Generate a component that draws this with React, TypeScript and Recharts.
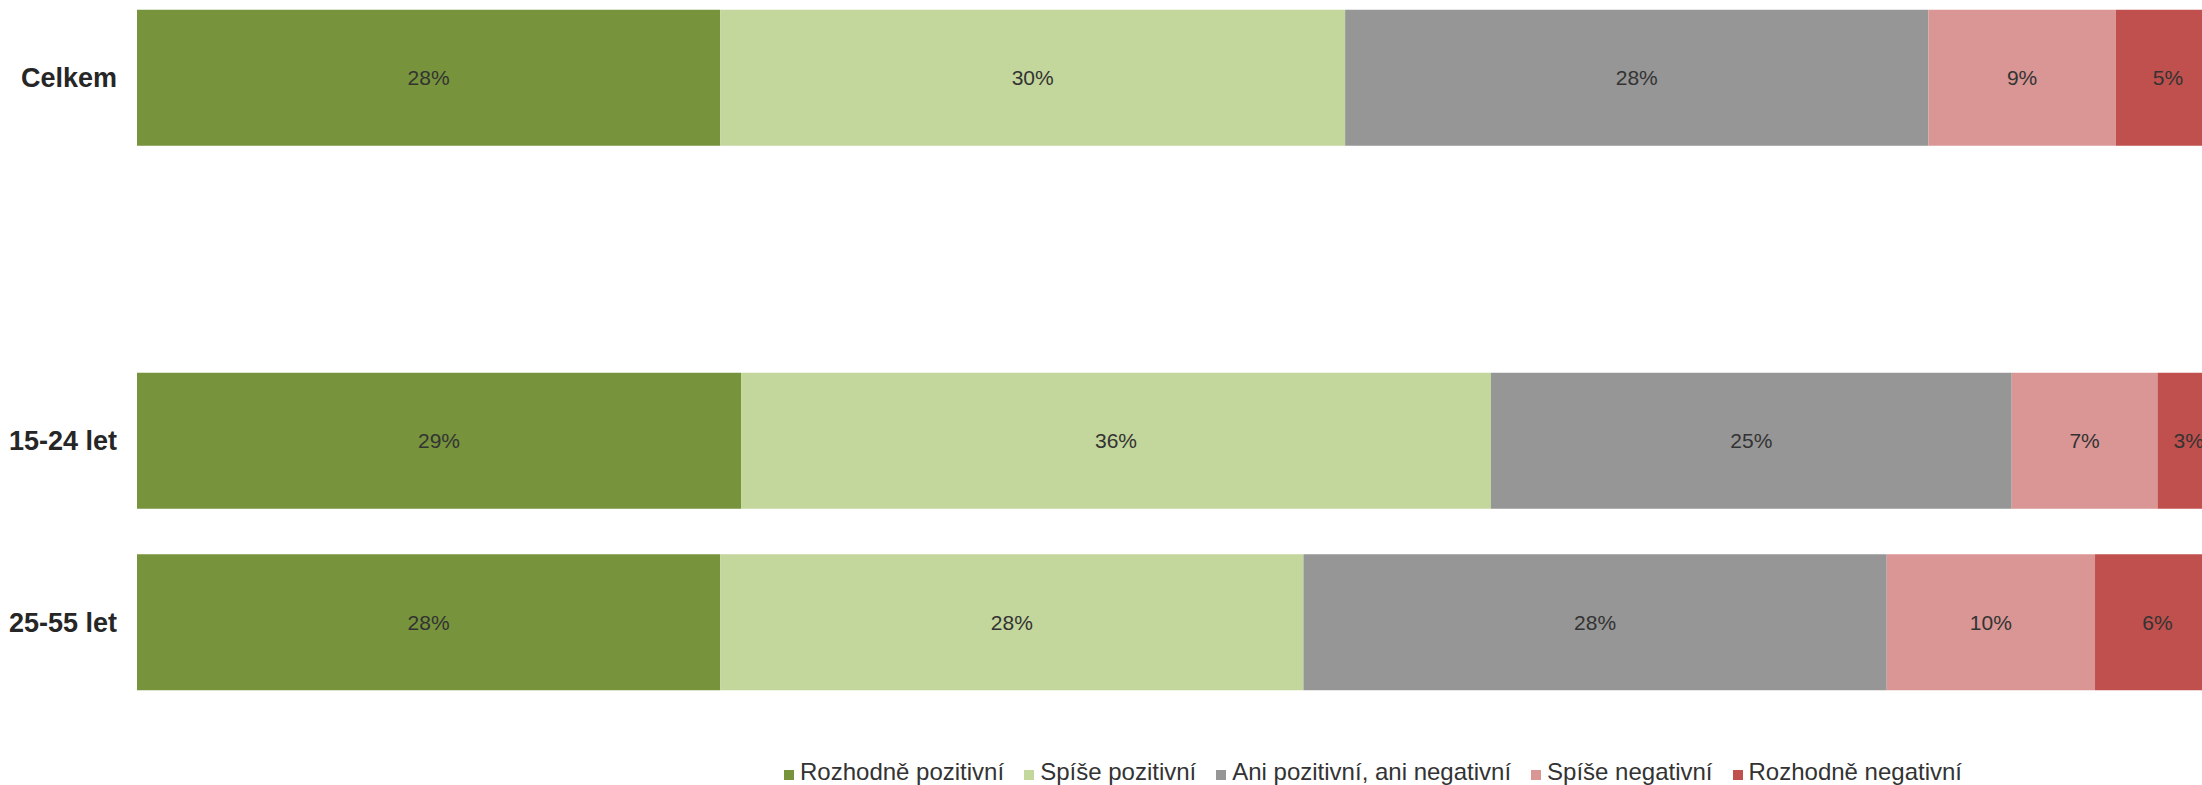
import { BarChart, Bar, XAxis, YAxis, Legend, LabelList } from "recharts";

const groups = ["Celkem", "", "15-24 let", "25-55 let"];
const rozhodnePozitivni = [28, null, 29, 28];
const spisePozitivni = [30, null, 36, 28];
const aniPozitivniAniNegativni = [28, null, 25, 28];
const spiseNegativni = [9, null, 7, 10];
const rozhodneNegativni = [5, null, 3, 6];

const seriesNames = [
  "Rozhodně pozitivní",
  "Spíše pozitivní",
  "Ani pozitivní, ani negativní",
  "Spíše negativní",
  "Rozhodně negativní",
];
const seriesColors = ["#77933C", "#C3D69B", "#969696", "#D99694", "#C0504D"];
const seriesValues = [
  rozhodnePozitivni,
  spisePozitivni,
  aniPozitivniAniNegativni,
  spiseNegativni,
  rozhodneNegativni,
];

const data = groups.map((group, i) => {
  const row: Record<string, string | number | null> = { group };
  seriesValues.forEach((values, s) => {
    row[`s${s}`] = values[i];
  });
  return row;
});

const font = '"Liberation Sans", Arial, Helvetica, sans-serif';

function LegendContent() {
  return (
    <div style={{ fontFamily: font, fontSize: 24, lineHeight: "28px", color: "#333", whiteSpace: "nowrap" }}>
      {seriesNames.map((name, i) => (
        <span key={name} style={{ marginRight: 20 }}>
          <span
            style={{
              display: "inline-block",
              width: 10,
              height: 10,
              marginRight: 6,
              background: seriesColors[i],
            }}
          />
          {name}
        </span>
      ))}
    </div>
  );
}

export default function App() {
  return (
    <div style={{ position: "fixed", left: 0, top: 0, width: 2202, height: 785, overflow: "hidden", background: "#fff" }}>
      <div style={{ position: "absolute", left: 0, top: -30 }}>
        <BarChart
          width={2220}
          height={815}
          data={data}
          layout="vertical"
          barCategoryGap="12.5%"
          margin={{ top: 17, right: 0, bottom: 72, left: 0 }}
        >
          <XAxis type="number" domain={[0, 100]} hide />
          <YAxis
            type="category"
            dataKey="group"
            width={137}
            axisLine={false}
            tickLine={false}
            tickSize={0}
            tickMargin={20}
            tick={{ fontFamily: font, fontSize: 27, fontWeight: "bold", fill: "#262626" }}
          />
          <Legend
            verticalAlign="middle"
            content={<LegendContent />}
            wrapperStyle={{ top: 788, left: 784, width: "auto" }}
          />
          {seriesNames.map((name, i) => (
            <Bar key={name} dataKey={`s${i}`} name={name} stackId="a" fill={seriesColors[i]} isAnimationActive={false}>
              <LabelList
                dataKey={`s${i}`}
                position="center"
                formatter={(v: any) => (v == null ? "" : `${v}%`)}
                style={{ fontFamily: font, fontSize: 21, fill: "#333" }}
              />
            </Bar>
          ))}
        </BarChart>
      </div>
    </div>
  );
}
